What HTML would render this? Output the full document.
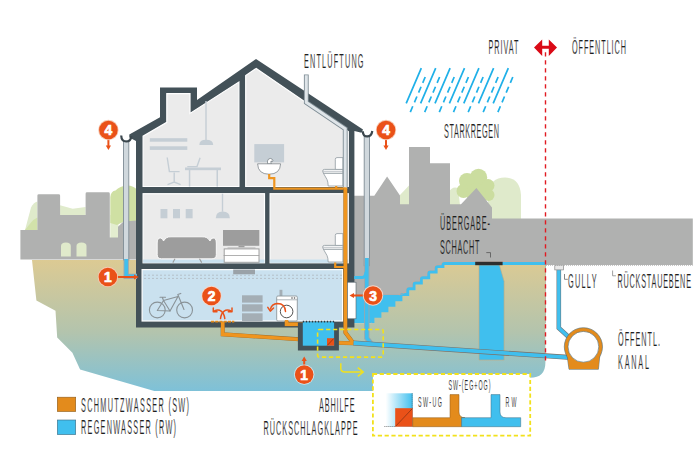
<!DOCTYPE html>
<html><head><meta charset="utf-8">
<style>
html,body{margin:0;padding:0;background:#fff;}
svg{display:block;}
text{font-family:"Liberation Sans",sans-serif;}
.lbl{fill:#1e1e1e;font-size:19px;stroke:#fff;stroke-width:0.2;}
.num{fill:#fff;font-size:13.8px;font-weight:bold;stroke:#fff;stroke-width:0.7;}
</style></head>
<body>
<svg width="700" height="476" viewBox="0 0 700 476">
<defs>
<linearGradient id="terr" x1="0" y1="0" x2="0" y2="1" gradientUnits="objectBoundingBox">
<stop offset="0" stop-color="#dcca93"/>
<stop offset="0.55" stop-color="#b3c4ad"/>
<stop offset="1" stop-color="#7ec1d8"/>
</linearGradient>
<linearGradient id="fade" x1="0" y1="0" x2="1" y2="0">
<stop offset="0" stop-color="#fff"/>
<stop offset="1" stop-color="#40bfee"/>
</linearGradient>
<pattern id="dots" width="4" height="4" patternUnits="userSpaceOnUse">
<rect width="4" height="4" fill="#cae1ef"/>
</pattern>
</defs>
<rect width="700" height="476" fill="#fff"/>

<!-- ===== TREES LEFT ===== -->
<path d="M25,259 L25,230 L31,207.5 Q33.5,202.5 37.4,201.5 L37.4,259 Z" fill="#dfeacb"/>
<path d="M25,259 L25,230 L31,222.5 Q34,219 37.4,217.5 L37.4,259 Z" fill="#d2e2aa"/>
<path d="M60.1,216 L60.1,205.2 L72.7,208.8 L85.6,207 L85.6,216 Z" fill="#e0ebcc"/>
<path d="M110.3,239 L110.3,215 L118.5,215 L118.5,239 Z" fill="#e3edcf"/>
<path d="M110.3,223 L110.3,197 Q111,191 115.5,190.5 Q120,186 127,185.5 Q134,185.5 137,190 L137,222 L123,222 L117,225 Z" fill="#cfe0a3"/>
<!-- ===== CASTLE LEFT ===== -->
<path d="M20.4,259.5 L20.4,230 L37.4,230 L37.4,195.6 Q37.4,194.2 38.8,194.2 L58.7,194.2 Q60.1,194.2 60.1,195.6 L60.1,215 L85.6,215 L85.6,193.7 Q85.6,192.3 87,192.3 L108.4,192.3 Q109.8,192.3 109.8,193.7 L109.8,237.6 L118,237.6 L118,226.7 L123.5,221.5 L137,220.5 L137,259.5 Z" fill="#b0b1b0"/>
<path d="M61,256.5 L61,246 Q61,242.4 65.9,242.4 Q70.8,242.4 70.8,246 L70.8,256.5 Z" fill="#e0eacb"/>
<path d="M76.5,256.5 L76.5,246 Q76.5,242.4 81.5,242.4 Q86.5,242.4 86.5,246 L86.5,256.5 Z" fill="#e0eacb"/>

<!-- ===== TREES RIGHT ===== -->
<path d="M400,195 L409,185.5 L409,205 L400,205 Z" fill="#dfeacb"/>
<path d="M448,205 L449,192 Q452,186 458,188 L460,205 Z" fill="#dfeacb"/>
<path d="M488,219 L488,192 Q490,178 505,177.5 Q520,178 521,195 L521,219 Z" fill="#dfeacb"/>
<g fill="#cbdd9f">
<circle cx="478.5" cy="177.5" r="8.7"/>
<circle cx="467" cy="181" r="8"/>
<circle cx="488" cy="185.5" r="6.5"/>
<circle cx="463.5" cy="191" r="7"/>
<circle cx="488.5" cy="195" r="6"/>
<circle cx="476" cy="193" r="10"/>
</g>

<!-- ===== TOWN RIGHT ===== -->
<path d="M354,195.7 L374.3,195.7 L387.1,176.6 L400,195.5 L400,204.3 L409,204.3 L409,147.1 L430,147.1 L430,163.3 L450,163.3 L450,204.3 L461,204.3 L476.4,188 L492,207.5 L492,218.6 L692.8,218.6 L692.8,265 L546,265 L546,323.2 L354,323.2 Z" fill="#b0b1b0"/>

<!-- pool -->
<path d="M545.4,265 L444.4,265 L444.4,268.1 L437.6,268.1 L437.6,273.4 L430.2,273.4 L430.2,279.2 L422.8,279.2 L422.8,284.4 L415.5,284.4 L415.5,290.2 L409.2,290.2 L409.2,296 L402.4,296 L402.4,301.2 L395.4,301.2 L395.4,306.7 L388.4,306.7 L388.4,312.2 L381.4,312.2 L381.4,317.7 L374.4,317.7 L374.4,323.2 L354,323.2 L354,294.6 L400,294.6 Z" fill="#40bfee"/>
<path d="M545.4,265 L444.4,265 L444.4,268.1 L437.6,268.1 L437.6,273.4 L430.2,273.4 L430.2,279.2 L422.8,279.2 L422.8,284.4 L415.5,284.4 L415.5,290.2 L409.2,290.2 L409.2,296 L402.4,296 L402.4,301.2 L395.4,301.2 L395.4,306.7 L388.4,306.7 L388.4,312.2 L381.4,312.2 L381.4,317.7 L374.4,317.7 L374.4,323.2" fill="none" stroke="#d7a58f" stroke-width="6.6" stroke-linejoin="round"/>
<path d="M545.4,265 L444.4,265 L444.4,268.1 L437.6,268.1 L437.6,273.4 L430.2,273.4 L430.2,279.2 L422.8,279.2 L422.8,284.4 L415.5,284.4 L415.5,290.2 L409.2,290.2 L409.2,296 L402.4,296 L402.4,301.2 L395.4,301.2 L395.4,306.7 L388.4,306.7 L388.4,312.2 L381.4,312.2 L381.4,317.7 L374.4,317.7 L374.4,323.2" fill="none" stroke="#40bfee" stroke-width="5.8" stroke-linejoin="round"/>
<path d="M354,294.6 L398,294.6 Q403,294.6 405,292.5" fill="none" stroke="#d7a58f" stroke-width="0.6"/>
<rect x="350" y="295.3" width="50" height="27" fill="#40bfee"/>
<!-- ===== TERRAIN ===== -->
<path d="M32,260 L140,260 L140,323.2 L374.4,323.2 L374.4,317.7 L381.4,317.7 L381.4,312.2 L388.4,312.2 L388.4,306.7 L395.4,306.7 L395.4,301.2 L402.4,301.2 L402.4,296 L409.2,296 L409.2,290.2 L415.5,290.2 L415.5,284.4 L422.8,284.4 L422.8,279.2 L430.2,279.2 L430.2,273.4 L437.6,273.4 L437.6,268.1 L444.4,268.1 L444.4,265 L545.4,265 L545.4,362.5 Q545.4,377.8 530,377.8 L380,391 L154.3,391 L80.1,369.6 L72.4,352.8 L57.2,337.6 L55.5,310.7 L36.4,300.6 Z" fill="url(#terr)"/>
<!-- shaft -->
<path d="M479,265 L499.4,265 L504.1,281.3 L504.1,360 L479,360 Z" fill="#40bfee" stroke="#c9a97a" stroke-width="0.6"/>
<rect x="475.2" y="261.8" width="27.4" height="3.4" fill="#2e2e2e"/>
<path d="M486.3,252.6 L490.5,252.6 L490.5,257.5" fill="none" stroke="#555" stroke-width="0.8"/>

<!-- ===== HOUSE ===== -->
<path d="M136,327.5 L136,141 L129.3,137.6 L129.3,134.4 L160,117.3 L160,87.6 L197,87.6 L197,100 L256,59 L363,129.6 L361.5,132.8 L354.4,131 L354.4,327.5 Z" fill="#435158"/>
<!-- rooms -->
<path d="M143.1,186.5 L143.1,136.2 L166.8,122.3 L166.8,93.7 L190,93.7 L190,113.4 L238.9,82 L238.9,186.5 Z" fill="#ebebeb" stroke="#fff" stroke-width="1.2"/>
<path d="M245.7,186.5 L245.7,75.5 L256.2,68.4 L348.3,131.6 L348.3,186.5 Z" fill="#ebebeb" stroke="#fff" stroke-width="1.2"/>
<rect x="143.1" y="193.7" width="121.4" height="69.1" fill="#ebebeb" stroke="#fff" stroke-width="1.2"/>
<rect x="270.1" y="193.7" width="78.2" height="69.1" fill="#ebebeb" stroke="#fff" stroke-width="1.2"/>
<rect x="142.1" y="269.6" width="200.5" height="51.4" fill="#cae1ef" stroke="#fff" stroke-width="1.2"/>
<!-- floor light strips -->
<rect x="143.1" y="259.5" width="121.4" height="3.3" fill="#cae1ef"/>
<rect x="270.1" y="259.5" width="78.2" height="3.3" fill="#cae1ef"/>


<!-- ===== ATTIC LEFT FURNITURE ===== -->
<g fill="#c5ced5">
<rect x="149.8" y="138.2" width="37.5" height="3.5"/>
<rect x="149.8" y="146.3" width="37.5" height="3.6"/>
<rect x="205.3" y="101" width="1.4" height="39"/>
<path d="M199.3,145 Q199.3,139.8 206,139.8 Q213.2,139.8 213.2,145 Z"/>
<rect x="185" y="167.5" width="36" height="2.7"/>
<rect x="188.8" y="170" width="1.5" height="16.5"/>
<rect x="216.5" y="170" width="1.5" height="16.5"/>
</g>
<g fill="none" stroke="#c5ced5" stroke-width="1.4">
<path d="M167.2,157.5 L169.4,171.6 L179.6,171.6"/>
<path d="M174.2,172.5 L174.2,182 M167.5,184.6 L174.2,182 L180.6,184.6"/>
<path d="M200.1,157.8 L197,166.6 L187.3,166.6"/>
</g>

<!-- ===== LIVING ROOM ===== -->
<g fill="#c5ced5">
<rect x="160.5" y="209" width="6.9" height="9.3"/>
<rect x="173" y="209" width="7" height="9.3"/>
<rect x="185.7" y="209" width="6.9" height="9.3"/>
<rect x="221.8" y="193.7" width="1.4" height="18"/>
<path d="M215.8,218.3 Q215.8,211.5 222.6,211.5 Q229.9,211.5 229.9,218.3 Z"/>
</g>
<path d="M157.2,243 Q157.2,237.8 160.5,238 Q163,238.3 163.5,241 Q166,236.5 171,236.8 L202,236.8 Q207.5,236.5 210,241 Q210.5,238.3 213,238 Q216.3,237.8 216.3,243 L216.3,254.6 Q216.3,258.8 212,258.8 L161.5,258.8 Q157.2,258.8 157.2,254.6 Z" fill="#9d9d9d" stroke="#fff" stroke-width="0.9"/>
<path d="M175,258.8 L172.8,262.6 M199.5,258.8 L201.7,262.6" stroke="#9d9d9d" stroke-width="1.1"/>
<rect x="223" y="230" width="36.3" height="15.8" fill="#9d9d9d"/>
<rect x="238.5" y="245.8" width="6" height="2" fill="#9d9d9d"/>
<rect x="227.5" y="247.2" width="28" height="1.3" fill="#c8c8c8"/>
<rect x="224.2" y="248.9" width="34.8" height="13.4" fill="#fff" stroke="#a0a0a0" stroke-width="1"/>
<path d="M223.6,255.5 L259.2,255.5" stroke="#9d9d9d" stroke-width="0.8"/>

<!-- ===== BATHROOM UPPER ===== -->
<rect x="254.3" y="144.1" width="29.8" height="18.3" fill="#c5ced5"/>
<path d="M267.6,163.9 Q266.8,160.6 268.6,159 Q270.5,157.8 272.2,159.2 Q273.4,160.5 272.4,161.6 L271,161 Q270.6,162.4 271.4,163.9 Z" fill="#fff" stroke="#6f777c" stroke-width="0.7"/>
<path d="M257.6,163.8 L280.6,163.8 Q280.2,174.2 269,174.2 Q258,174.2 257.6,163.8 Z" fill="#fff" stroke="#6f777c" stroke-width="0.7"/>
<g fill="#fff" stroke="#8f999f" stroke-width="0.8" transform="translate(0,0)">
<path d="M323.4,173.2 L327,179.5 Q328,181.5 328.2,186 L342.9,186 L342.9,173.2 Z"/>
<path d="M337,157.6 L342.9,157.6 L342.9,169.6 L335.3,169.6 L335.3,159.3 Q335.3,157.6 337,157.6 Z"/>
<path d="M324.4,169.4 L342.9,169.4 L342.9,173.2 L324.4,173.2 Q322.6,173.2 322.6,171.3 Q322.6,169.4 324.4,169.4 Z"/>
<path d="M323,171.3 L342.9,171.3" stroke-width="0.6"/>
</g>
<!-- ===== BATHROOM GROUND ===== -->
<g fill="#fff" stroke="#8f999f" stroke-width="0.8" transform="translate(0,76)">
<path d="M323.4,173.2 L327,179.5 Q328,181.5 328.2,186 L342.9,186 L342.9,173.2 Z"/>
<path d="M337,157.6 L342.9,157.6 L342.9,169.6 L335.3,169.6 L335.3,159.3 Q335.3,157.6 337,157.6 Z"/>
<path d="M324.4,169.4 L342.9,169.4 L342.9,173.2 L324.4,173.2 Q322.6,173.2 322.6,171.3 Q322.6,169.4 324.4,169.4 Z"/>
<path d="M323,171.3 L342.9,171.3" stroke-width="0.6"/>
</g>
<!-- ceiling thing basement -->
<rect x="233.2" y="269.5" width="21.8" height="4.8" fill="#9aa2a8"/>

<!-- ===== BASEMENT ===== -->
<g fill="none" stroke="#b4c0c8" stroke-width="1" stroke-dasharray="2 2">
<path d="M144,275.2 L342,275.2"/>
<path d="M144,278.4 L342,278.4"/>
</g>
<!-- bike -->
<g fill="none" stroke="#8a9398" stroke-width="1.1" stroke-linejoin="round" stroke-linecap="round">
<circle cx="157.3" cy="310" r="7.9"/>
<circle cx="184.6" cy="310" r="7.9"/>
<path d="M157.3,310.5 L163.5,300.5 L170,311 Z"/>
<path d="M163.5,300.5 L178,296.5 L170,311"/>
<path d="M163.5,300.5 L162.3,297.2 M160,297.2 L165.5,297.2"/>
<path d="M184,309.5 L177.8,294.5 L180.8,293.4"/>
</g>
<!-- shelf -->
<g fill="#a4aeb5">
<rect x="242" y="295.3" width="20.6" height="7.3"/>
<rect x="242" y="304.3" width="20.6" height="7.2"/>
<rect x="242" y="313.3" width="20.6" height="7.7"/>
</g>
<!-- washing machine -->
<rect x="279.5" y="289.8" width="2.9" height="6.2" fill="#a4aeb5"/>
<rect x="276.7" y="296" width="20.6" height="25" rx="1.2" fill="#fff" stroke="#8d979c" stroke-width="0.9"/>
<path d="M276.7,299.8 L297.3,299.8" stroke="#8d979c" stroke-width="0.7"/>
<circle cx="292" cy="298" r="0.8" fill="#555"/><circle cx="294.5" cy="298" r="0.8" fill="#555"/>
<circle cx="286.6" cy="311.5" r="6.3" fill="none" stroke="#555" stroke-width="1"/>


<!-- ===== PIPES ===== -->
<!-- vent pipe -->
<path d="M306.3,74.5 L306.3,102.5 L345.2,128.8 L345.2,189" fill="none" stroke="#7f8d95" stroke-width="4.8"/>
<path d="M306.3,75.3 L306.3,102.5 L345.2,128.8 L345.2,189" fill="none" stroke="#dfe5e9" stroke-width="3"/>
<!-- orange sewage pipes -->
<g fill="none" stroke="#ef951f" stroke-width="2.2" stroke-linejoin="miter">
<path d="M269.2,174 L269.2,178.2 L274.3,178.2 L274.3,188.7 L345.7,188.7"/>
<path d="M336.2,186 L336.2,188.7"/>
</g>
<g fill="none" stroke="#9a6a2a" stroke-width="4.0" stroke-linejoin="miter">
<path d="M345.4,188.5 L345.4,332.5 L353.6,343.5"/>
<path d="M286.6,321 L286.6,324.2 L303,324.2"/>
<path d="M222.7,322.5 L222.7,334.3 L303,339.6"/>
<path d="M334,342.7 L354,343.2"/>
</g>
<g fill="none" stroke="#ef951f" stroke-width="3.4" stroke-linejoin="miter">
<path d="M345.4,187.5 L345.4,332.5 L353.6,343.5"/>
<path d="M335.2,262.5 L335.2,267 L345,267" stroke-width="2.2"/>
<path d="M286.6,320 L286.6,324.2 L303,324.2"/>
<path d="M222.7,322 L222.7,334.3 L303,339.6"/>
<path d="M334,342.7 L354,343.2"/>
</g>
<path d="M211,321.6 L234.3,321.6" stroke="#e38b1c" stroke-width="1.8" stroke-dasharray="3.2 1"/>
<!-- downspouts -->
<rect x="123.5" y="141" width="5.3" height="119" fill="#d0d8dd" stroke="#7f8d95" stroke-width="0.9"/>
<path d="M126.2,259 L126.2,276.3 L137,276.3" fill="none" stroke="#9aa7ae" stroke-width="5.3"/>
<path d="M126.2,259 L126.2,276.3 L137,276.3" fill="none" stroke="#40bfee" stroke-width="3.5"/>
<path d="M121.2,135.5 Q121.5,141.5 126.2,141.5 Q131,141.5 131.3,136" fill="none" stroke="#3b474d" stroke-width="2.2"/>
<rect x="364.2" y="135.7" width="5.3" height="130" fill="#d0d8dd" stroke="#7f8d95" stroke-width="0.9"/>
<path d="M362.8,131.2 Q363,136.5 367.2,136.5 Q371.5,136.5 372.3,131" fill="none" stroke="#3b474d" stroke-width="2.2"/>
<path d="M366.8,258 L366.8,338 L371,343.5" fill="none" stroke="#9aa7ae" stroke-width="5.3"/>
<path d="M366.8,258 L366.8,338 L371,343.5" fill="none" stroke="#40bfee" stroke-width="3.5"/>
<path d="M354.2,277.6 L362,277.6 Q365.5,277.6 366,272" fill="none" stroke="#40bfee" stroke-width="3"/>
<!-- white window panel -->
<rect x="347.4" y="282.2" width="8.6" height="36.6" fill="#fff" stroke="#55626a" stroke-width="0.6"/>

<!-- chamber -->
<rect x="297.9" y="322.5" width="41" height="28" fill="#435158"/>
<rect x="302.8" y="321.6" width="31.3" height="24.1" fill="#40bfee"/>
<path d="M302.8,321.6 L334.1,321.6" stroke="#2f3b41" stroke-width="1.6" stroke-dasharray="1.4 1.6"/>
<rect x="327" y="338.2" width="7.1" height="7.5" fill="#ea5118"/>
<path d="M327.4,345.3 L333.7,338.6" stroke="#7a2a10" stroke-width="0.7"/>

<!-- sewer line blue -->
<path d="M353.6,343 L568,357.3" stroke="#7f6d60" stroke-width="5"/>
<path d="M353.6,343 L568,357.3" stroke="#40bfee" stroke-width="3.8"/>


<!-- ===== GULLY & KANAL ===== -->
<path d="M558.8,268 L558.8,328 L572,340" fill="none" stroke="#6f7a80" stroke-width="4.6"/>
<path d="M558.8,268 L558.8,328 L572,340" fill="none" stroke="#40bfee" stroke-width="3.4"/>
<rect x="554.8" y="265.3" width="8.8" height="4.6" fill="#e8e8e8" stroke="#8a8a8a" stroke-width="0.7"/>
<path d="M566.6,352 L600.2,352 L598.4,369.3 L569,369.3 Z" fill="#e38b1c" stroke="#4d6b7a" stroke-width="0.6"/>
<circle cx="583.4" cy="346.8" r="19.1" fill="#e38b1c" stroke="#4d6b7a" stroke-width="0.6"/>
<path d="M567,352.5 L599.8,352.5 L598,369 L569.4,369 Z" fill="#e38b1c"/>
<circle cx="583.4" cy="346.8" r="15.4" fill="#fff" stroke="#4d6b7a" stroke-width="0.6"/>
<!-- ground band bottom dotted -->
<path d="M546,265.5 L692.8,265.5" stroke="#c8c8c8" stroke-width="1" stroke-dasharray="1 1"/>

<!-- red dashed privat line -->
<path d="M545.5,52.3 L545.5,362" stroke="#e11b22" stroke-width="1.4" stroke-dasharray="4.2 3.8"/>
<path d="M534,47.6 L542.2,39.4 L542.2,45.7 L548.8,45.7 L548.8,39.4 L557,47.6 L548.8,56.1 L548.8,48.8 L542.2,48.8 L542.2,56.1 Z" fill="#da0a16"/>
<!-- rain -->
<g stroke="#1fb0e8" stroke-width="1.7" fill="none">
<path d="M421.3,68.2 L406.2,103.4 M435.7,68.2 L420.6,103.4 M450.1,68.2 L435,103.4 M464.5,68.2 L449.4,103.4 M478.9,68.2 L463.8,103.4 M493.6,68.2 L478.5,103.4 M508.3,68.2 L493.2,103.4"/>
</g>
<g stroke="#1fb0e8" stroke-width="1.7" fill="none" stroke-dasharray="6.3 4.3">
<path d="M425.2,77 L410.2,112.3 M439.6,77 L424.6,112.3 M454.2,77 L439.2,112.3 M468.4,77 L453.4,112.3 M483.1,77 L468.1,112.3 M498.1,77 L483.1,112.3 M512.8,77 L497.8,112.3"/>
</g>

<!-- ===== CIRCLES ===== -->
<g>
<path d="M108.4,138 L108.4,146" stroke="#ea5118" stroke-width="2"/>
<path d="M105.8,145.5 L111,145.5 L108.4,150 Z" fill="#ea5118"/>
<circle cx="108.4" cy="130" r="10.2" fill="#f6c9b3"/>
<circle cx="108.4" cy="130" r="9.3" fill="#ea5118"/>
<text x="108.4" y="135.4" class="num" text-anchor="middle">4</text>

<path d="M386,138 L386,146" stroke="#ea5118" stroke-width="2"/>
<path d="M383.4,145.5 L388.6,145.5 L386,150 Z" fill="#ea5118"/>
<circle cx="386" cy="130" r="10.2" fill="#f6c9b3"/>
<circle cx="386" cy="130" r="9.3" fill="#ea5118"/>
<text x="386" y="135.4" class="num" text-anchor="middle">4</text>

<path d="M116,277 L134.5,277" stroke="#ea5118" stroke-width="2"/>
<path d="M134,274.4 L134,279.6 L138.8,277 Z" fill="#ea5118"/>
<circle cx="107.9" cy="277" r="10.2" fill="#f6c9b3"/>
<circle cx="107.9" cy="277" r="9.3" fill="#ea5118"/>
<text x="107.9" y="282.4" class="num" text-anchor="middle">1</text>

<circle cx="211.5" cy="296" r="10.2" fill="#f6d6c8"/>
<circle cx="211.5" cy="296" r="9.3" fill="#ea5118"/>
<text x="211.5" y="301.4" class="num" text-anchor="middle">2</text>

<path d="M365,295.5 L353.5,295.5" stroke="#ea5118" stroke-width="2"/>
<path d="M354,292.9 L354,298.1 L349.5,295.5 Z" fill="#ea5118"/>
<circle cx="373" cy="295.5" r="10.2" fill="#f6d6c8"/>
<circle cx="373" cy="295.5" r="9.3" fill="#ea5118"/>
<text x="373" y="300.9" class="num" text-anchor="middle">3</text>

<path d="M304.2,366 L304.2,360" stroke="#ea5118" stroke-width="2"/>
<path d="M301.6,361 L306.8,361 L304.2,356.5 Z" fill="#ea5118"/>
<circle cx="304.2" cy="374.6" r="10.2" fill="#cfe6ee"/>
<circle cx="304.2" cy="374.6" r="9.3" fill="#ea5118"/>
<text x="304.2" y="380.0" class="num" text-anchor="middle">1</text>
</g>
<!-- curved arrows -->
<g fill="none" stroke="#ea5118" stroke-width="1.5" stroke-linecap="round" stroke-linejoin="round">
<path d="M224.8,318.6 C224,311.5 219.5,308 214,311.2"/>
<path d="M213.3,308 L213.3,311.8 L217,311.8"/>
<path d="M220.5,318.6 C221.3,311.5 225.8,308 231.3,311.2"/>
<path d="M232,308 L232,311.8 L228.3,311.8"/>
<path d="M285.5,311.5 Q285,303.5 277.5,303.5 Q271.5,304 270.5,309"/>
<path d="M267.8,307.3 L270.3,311.2 L273.5,308"/>
</g>
<!-- yellow dashed callout -->
<rect x="317.6" y="329.5" width="65.6" height="27.6" rx="1.5" fill="none" stroke="#f2e11c" stroke-width="1.6" stroke-dasharray="4.2 2.8"/>
<path d="M340.8,363.3 L340.8,368.5 Q341,372 345,372 L362.5,372" fill="none" stroke="#f2e11c" stroke-width="1.5"/>
<path d="M357.8,367.6 L363.2,372 L357.8,376.4" fill="none" stroke="#f2e11c" stroke-width="1.5"/>

<!-- detail box -->
<rect x="372.9" y="374" width="157.3" height="61.7" fill="#fff" stroke="#f2e11c" stroke-width="1.8" stroke-dasharray="4.2 2.6"/>
<rect x="385.7" y="393.3" width="27" height="33.4" fill="url(#fade)"/>
<rect x="395.2" y="408.2" width="17.5" height="18.5" fill="#ea5118"/>
<path d="M395.5,426.4 L412.4,408.5" stroke="#6b2a12" stroke-width="0.6"/>
<path d="M412.2,393.5 L412.2,408" stroke="#333" stroke-width="0.8" stroke-dasharray="0.8 1.2"/>
<path d="M384.5,426.5 L395,426.5" stroke="#333" stroke-width="0.8" stroke-dasharray="0.8 1.2"/>
<path d="M412.7,417.7 L450,417.7 L450,394.6 L459,394.6 L459,412 Q459,417.7 465,417.7 L461.6,417.7 L461.6,426.7 L412.7,426.7 Z" fill="#e38b1c" stroke="#8d5a1a" stroke-width="0.5"/>
<path d="M461.6,417.7 L491,417.7 L491,394.6 L500,394.6 L500,412 Q500,417.7 506,417.7 L520.7,417.7 L520.7,426.7 L461.6,426.7 Z" fill="#40bfee" stroke="#3d6a80" stroke-width="0.5"/>

<!-- legend -->
<rect x="57.3" y="397.2" width="18.4" height="14.3" fill="#e38b1c" stroke="#8d5a1a" stroke-width="0.6"/>
<rect x="57.3" y="420" width="18.4" height="14.6" fill="#40bfee" stroke="#3d6a80" stroke-width="0.6"/>

<!-- ===== TEXT ===== -->
<g class="lbl">
<text transform="translate(304.00,67.70) scale(0.35,1)" x="0" y="0" style="font-size:20.80px" textLength="170.00" lengthAdjust="spacing">ENTLÜFTUNG</text>
<text transform="translate(488.50,54.00) scale(0.35,1)" x="0" y="0" style="font-size:20.80px" textLength="85.71" lengthAdjust="spacing">PRIVAT</text>
<text transform="translate(572.00,54.00) scale(0.35,1)" x="0" y="0" style="font-size:20.80px" textLength="154.29" lengthAdjust="spacing">ÖFFENTLICH</text>
<text transform="translate(444.00,138.40) scale(0.35,1)" x="0" y="0" style="font-size:20.80px" textLength="157.14" lengthAdjust="spacing">STARKREGEN</text>
<text transform="translate(440.00,229.80) scale(0.35,1)" x="0" y="0" style="stroke:#b0b1b0;font-size:20.80px" textLength="142.86" lengthAdjust="spacing">ÜBERGABE-</text>
<text transform="translate(440.00,253.60) scale(0.35,1)" x="0" y="0" style="stroke:#b0b1b0;font-size:20.80px" textLength="112.86" lengthAdjust="spacing">SCHACHT</text>
<text transform="translate(568.00,288.00) scale(0.35,1)" x="0" y="0" style="font-size:20.80px" textLength="81.43" lengthAdjust="spacing">GULLY</text>
<text transform="translate(617.50,288.00) scale(0.35,1)" x="0" y="0" style="font-size:20.80px" textLength="210.00" lengthAdjust="spacing">RÜCKSTAUEBENE</text>
<text transform="translate(618.00,346.00) scale(0.35,1)" x="0" y="0" style="font-size:20.80px" textLength="120.00" lengthAdjust="spacing">ÖFFENTL.</text>
<text transform="translate(618.00,368.80) scale(0.35,1)" x="0" y="0" style="font-size:20.80px" textLength="88.57" lengthAdjust="spacing">KANAL</text>
<text transform="translate(81.00,411.50) scale(0.35,1)" x="0" y="0" style="font-size:20.80px" textLength="308.57" lengthAdjust="spacing">SCHMUTZWASSER (SW)</text>
<text transform="translate(81.00,434.30) scale(0.35,1)" x="0" y="0" style="font-size:20.80px" textLength="271.43" lengthAdjust="spacing">REGENWASSER (RW)</text>
<text transform="translate(319.00,411.70) scale(0.35,1)" x="0" y="0" style="font-size:20.80px" textLength="101.43" lengthAdjust="spacing">ABHILFE</text>
<text transform="translate(263.50,435.20) scale(0.35,1)" x="0" y="0" style="font-size:20.80px" textLength="268.57" lengthAdjust="spacing">RÜCKSCHLAGKLAPPE</text>
<text transform="translate(418.00,407.40) scale(0.35,1)" x="0" y="0" style="font-size:15.20px" textLength="68.57" lengthAdjust="spacing">SW-UG</text>
<text transform="translate(448.50,390.20) scale(0.35,1)" x="0" y="0" style="font-size:15.20px" textLength="120.00" lengthAdjust="spacing">SW-(EG+OG)</text>
<text transform="translate(505.50,407.40) scale(0.35,1)" x="0" y="0" style="font-size:15.20px" textLength="31.43" lengthAdjust="spacing">RW</text>
</g>
<path d="M564.5,274 L564.5,279.3 L567.8,279.3" fill="none" stroke="#666" stroke-width="0.8"/>
<path d="M612.6,270.5 L612.6,275.8 L615.9,275.8" fill="none" stroke="#888" stroke-width="0.8"/>

</svg>
</body></html>
